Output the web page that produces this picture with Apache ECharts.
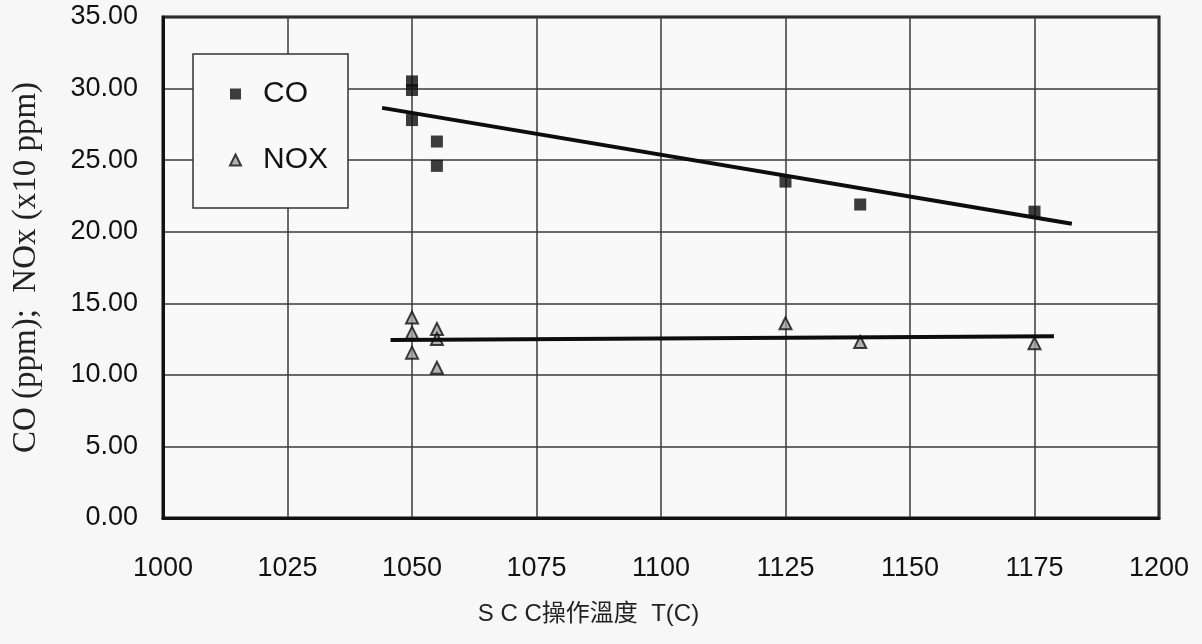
<!DOCTYPE html>
<html>
<head>
<meta charset="utf-8">
<script src="https://cdn.jsdelivr.net/npm/echarts@6/dist/echarts.min.js"></script>
<style>
html,body{margin:0;padding:0;background:#f8f7f7;}
#chart{width:1202px;height:644px;}
</style>
</head>
<body>
<div id="chart"></div>
<script>
// Data
const coTemps   = [1050, 1050, 1050, 1055, 1055, 1125, 1140, 1175];
const coValues  = [30.5, 29.9, 27.8, 26.3, 24.6, 23.5, 21.9, 21.4];
const noxTemps  = [1050, 1050, 1050, 1055, 1055, 1055, 1125, 1140, 1175];
const noxValues = [14.0, 12.95, 11.55, 13.2, 12.5, 10.5, 13.6, 12.3, 12.2];
// Trend line endpoints [T, value]
const coTrendT = [1044, 1182.5];
const coTrendV = [28.65, 20.55];
const noxTrendT = [1045.7, 1178.9];
const noxTrendV = [12.43, 12.7];
const xTicks = [1000, 1200, 25];
const yTicks = [0, 35, 5];

const pairs = (xs, ys) => xs.map((x, i) => [x, ys[i]]);

const chart = echarts.init(document.getElementById('chart'));
const tickFont = 'Liberation Sans, Arial, sans-serif';
chart.setOption({
  backgroundColor: '#f8f7f7',
  animation: false,
  grid: {
    left: 163, right: 43, top: 17, bottom: 126,
    show: true, borderColor: '#111', borderWidth: 3, backgroundColor: '#faf9f9'
  },
  legend: {
    orient: 'vertical',
    left: 193, top: 54,
    data: [{name: 'CO', icon: 'rect'}, {name: 'NOX', icon: 'triangle'}],
    itemWidth: 11, itemHeight: 11,
    itemGap: 36,
    padding: [25, 20, 33, 36],
    backgroundColor: '#faf9f9',
    borderColor: '#333', borderWidth: 1.5, borderRadius: 0,
    textStyle: {fontFamily: tickFont, fontSize: 30, color: '#111', lineHeight: 30,
      padding: [0, 0, 0, 17]}
  },
  xAxis: {
    type: 'value', min: xTicks[0], max: xTicks[1], interval: xTicks[2],
    name: 'S C C操作溫度  T(C)',
    nameLocation: 'middle', nameGap: 84,
    nameTextStyle: {fontFamily: 'Liberation Sans, Noto Sans CJK TC, sans-serif', fontSize: 24, color: '#222', padding: [0, 145, 0, 0]},
    axisLine: {show: true, lineStyle: {color: '#111', width: 3}},
    axisTick: {show: false},
    axisLabel: {fontFamily: tickFont, fontSize: 27, color: '#111', margin: 37,
      formatter: v => String(v)},
    splitLine: {show: true, lineStyle: {color: '#3a3a3a', width: 1.5}}
  },
  yAxis: {
    type: 'value', min: yTicks[0], max: yTicks[1], interval: yTicks[2],
    name: 'CO (ppm);  NOx (x10 ppm)',
    nameLocation: 'middle', nameGap: 120, nameRotate: 90,
    nameTextStyle: {fontFamily: 'Liberation Serif, serif', fontSize: 33, color: '#222'},
    axisLine: {show: true, lineStyle: {color: '#111', width: 3}},
    axisTick: {show: false},
    axisLabel: {fontFamily: tickFont, fontSize: 27, color: '#111', margin: 25,
      formatter: v => v.toFixed(2)},
    splitLine: {show: true, lineStyle: {color: '#3a3a3a', width: 1.5}}
  },
  series: [
    {
      name: 'CO', type: 'scatter', symbol: 'rect', symbolSize: 12,
      itemStyle: {color: '#0d0d0d'},
      data: pairs(coTemps, coValues), z: 3
    },
    {
      name: 'NOX', type: 'scatter', symbol: 'triangle', symbolSize: 12,
      itemStyle: {color: '#a0a0a0', borderColor: '#111', borderWidth: 2},
      data: pairs(noxTemps, noxValues), z: 3
    },
    {
      name: 'CO trend', type: 'line', showSymbol: false, silent: true,
      lineStyle: {color: '#0d0d0d', width: 4},
      data: pairs(coTrendT, coTrendV), z: 4
    },
    {
      name: 'NOX trend', type: 'line', showSymbol: false, silent: true,
      lineStyle: {color: '#0d0d0d', width: 4},
      data: pairs(noxTrendT, noxTrendV), z: 4
    }
  ]
});
</script>
</body>
</html>
